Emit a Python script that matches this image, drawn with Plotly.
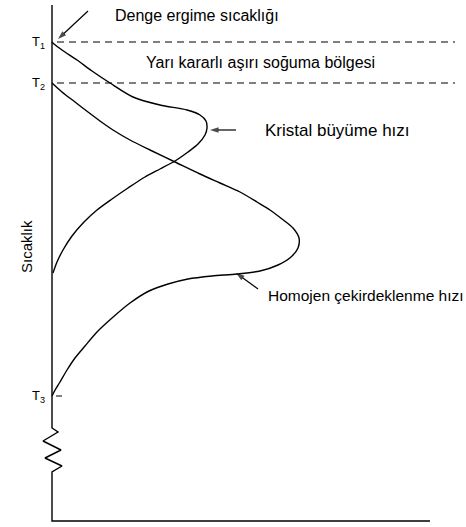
import plotly.graph_objects as go

# Schematic: temperature (vertical) versus rate (horizontal), arbitrary units.
T1, T2, T3 = 479, 438, 125  # equilibrium melting, metastable limit, lower limit

crystal_rate = [0, 2, 10, 25, 40, 58, 81, 108, 135, 148, 154, 155, 153, 146, 136,
                123, 108, 93, 76, 60, 45, 32, 20, 11, 5, 1]
crystal_temp = [479, 477, 471, 461, 450, 438, 424, 416, 411, 406, 400, 393, 386, 377,
                369, 360, 352, 344, 333, 322, 311, 299, 285, 271, 259, 248]

nucl_rate = [0, 10, 23, 36, 48, 61, 78, 98, 123, 148, 168, 188, 205, 218, 230, 241,
             247, 246, 239, 226, 208, 185, 160, 136, 116, 97, 78, 60, 45, 33, 23,
             15, 8, 2, 0]
nucl_temp = [438, 429, 419, 409, 400, 391, 381, 371, 359, 347, 338, 329, 319, 311,
             302, 293, 283, 273, 264, 256, 250, 247, 245, 242, 237, 230, 218, 203,
             189, 175, 163, 151, 139, 129, 125]

# Temperature axis with a break (zigzag) below T3
axis_rate = [0, 0, 6, -9, 9, -7, 10, 0, 0, 378]
axis_temp = [516, 93, 89, 80, 71, 63, 55, 49, 0, 0]

dash_span = [5, 403]

tick_labels = ["T<sub>1</sub>", "T<sub>2</sub>", "T<sub>3</sub>"]
tick_temps = [T1, T2, T3]

# Label pointers: (tail rate, tail temp) -> (head rate, head temp)
pointers = [
    ([36, 6], [510, 482]),      # melting temperature
    ([184, 158], [391, 391]),   # crystal growth rate
    ([206, 184], [232, 248]),   # homogeneous nucleation rate
]

FONT = "Liberation Sans, Arial, sans-serif"

fig = go.Figure()
fig.add_trace(go.Scatter(x=axis_rate, y=axis_temp, mode="lines",
                         line=dict(color="black", width=1.4)))
fig.add_trace(go.Scatter(x=crystal_rate, y=crystal_temp, mode="lines",
                         line=dict(color="black", width=1.4, shape="spline", smoothing=0.8)))
fig.add_trace(go.Scatter(x=nucl_rate, y=nucl_temp, mode="lines",
                         line=dict(color="black", width=1.4, shape="spline", smoothing=0.8)))
for t in (T1, T2):
    fig.add_trace(go.Scatter(x=dash_span, y=[t, t], mode="lines",
                             line=dict(color="black", width=1.2, dash="7px,5px")))
# small tick at T3
fig.add_trace(go.Scatter(x=[4, 10], y=[T3, T3], mode="lines",
                         line=dict(color="black", width=1)))

for px, py in pointers:
    fig.add_trace(go.Scatter(
        x=px, y=py, mode="lines+markers",
        line=dict(color="black", width=1.2),
        marker=dict(symbol="arrow", angleref="previous", size=[0, 9],
                    color="black", line=dict(width=0)),
    ))

for lab, t in zip(tick_labels, tick_temps):
    fig.add_annotation(x=-5, y=t, text=lab, showarrow=False, xanchor="right",
                       yanchor="middle", font=dict(family=FONT, size=13, color="black"))

fig.add_annotation(x=61, y=506, text="Denge ergime sıcaklığı", showarrow=False,
                   xanchor="left", yanchor="middle",
                   font=dict(family=FONT, size=16, color="black"))

fig.add_annotation(x=208, y=459, text="Yarı kararlı aşırı soğuma bölgesi",
                   showarrow=False, xanchor="center", yanchor="middle",
                   font=dict(family=FONT, size=16, color="black"))

fig.add_annotation(x=211, y=391, text="Kristal büyüme hızı", showarrow=False,
                   xanchor="left", yanchor="middle",
                   font=dict(family=FONT, size=17, color="black"))

fig.add_annotation(x=214, y=226, text="Homojen çekirdeklenme hızı", showarrow=False,
                   xanchor="left", yanchor="middle",
                   font=dict(family=FONT, size=15.5, color="black"))

fig.add_annotation(x=-26, y=274, text="Sıcaklık", showarrow=False, textangle=-90,
                   xanchor="center", yanchor="middle",
                   font=dict(family=FONT, size=15, color="black"))

fig.update_layout(
    width=466, height=527, margin=dict(l=0, r=0, t=0, b=0),
    paper_bgcolor="white", plot_bgcolor="white", showlegend=False,
    xaxis=dict(range=[-52, 414], visible=False, fixedrange=True),
    yaxis=dict(range=[-6, 521], visible=False, fixedrange=True),
)

fig.write_html("out.html")
